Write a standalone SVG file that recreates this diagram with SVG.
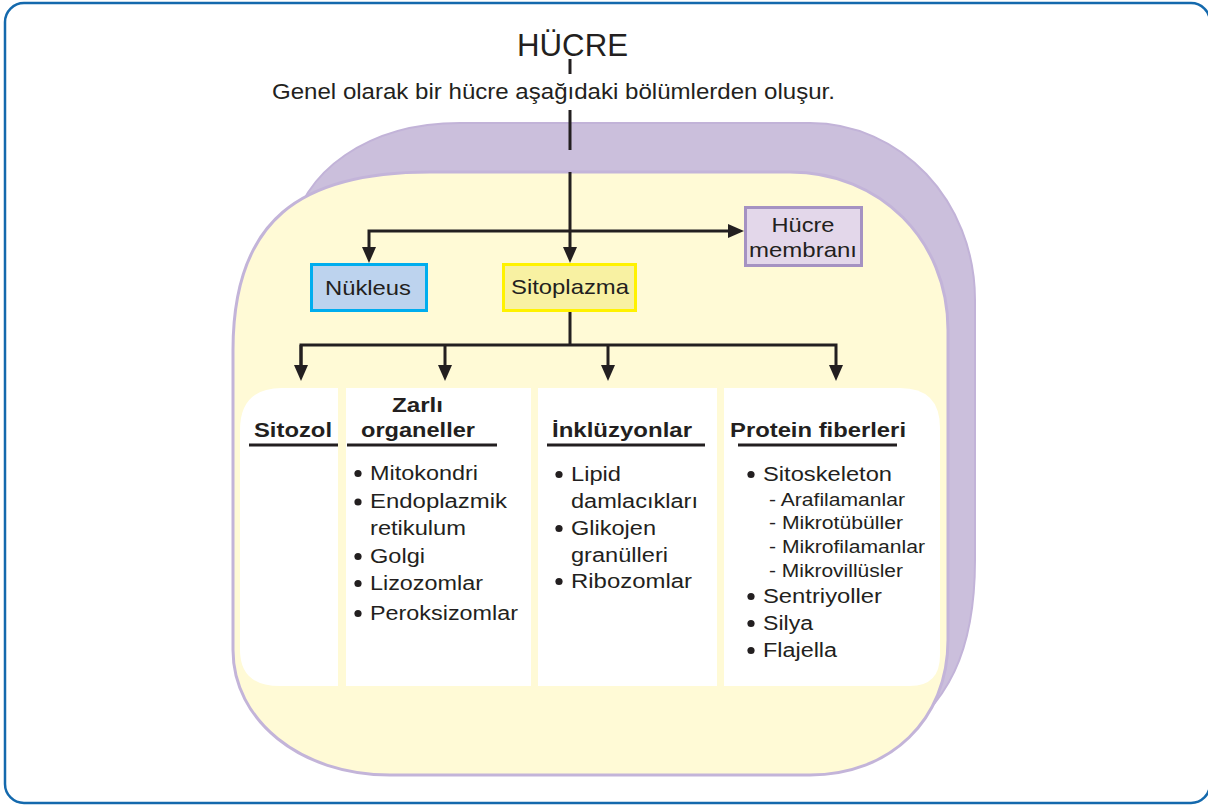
<svg xmlns="http://www.w3.org/2000/svg" width="1208" height="805" viewBox="0 0 1208 805">
<defs>
<style>
text{font-family:"Liberation Sans",Arial,sans-serif;fill:#231f20}
.h{font-size:20px;font-weight:bold}
.i{font-size:20px}
.s{font-size:17.5px}
.lbl{font-size:21px;text-anchor:middle}
.con{fill:none;stroke:#231f20;stroke-width:3}
.ul{stroke:#231f20;stroke-width:3.2}
.col{fill:#ffffff}
.dot{fill:#231f20}
</style>
<marker id="ah" viewBox="0 0 16 14" refX="10" refY="7" markerWidth="16" markerHeight="14" markerUnits="userSpaceOnUse" orient="auto">
<path d="M0,0 L16,7 L0,14 Z" fill="#231f20"/>
</marker>
</defs>

<rect x="5" y="3" width="1205" height="800" rx="19" fill="#ffffff" stroke="#1469ad" stroke-width="2.5"/>

<g id="cell">
<path d="M290,240 C300,170 370,123 460,123 L810,123 C900,123 975,200 975,300 L975,560 C975,650 950,705 885,748 L500,748 Z" fill="#cbbfdc" stroke="#c2b3d8" stroke-width="2"/>
<path d="M233,350 C233,220 300,172 430,172 L790,172 C880,172 948,240 948,330 L948,640 C948,720 890,775 810,775 L390,775 C300,775 233,720 233,650 Z" fill="#fffad6" stroke="#c3b4d9" stroke-width="3"/>
</g>

<g id="title">
<text x="572.5" y="56" font-size="32" text-anchor="middle" textLength="111" lengthAdjust="spacingAndGlyphs">HÜCRE</text>
<text x="553.5" y="99" font-size="22" text-anchor="middle" textLength="563" lengthAdjust="spacingAndGlyphs">Genel olarak bir hücre aşağıdaki bölümlerden oluşur.</text>
</g>

<g id="connectors">
<line class="con" x1="570" y1="59" x2="570" y2="74"/>
<line class="con" x1="570" y1="110" x2="570" y2="150"/>
<line class="con" x1="570" y1="172" x2="570" y2="257" marker-end="url(#ah)"/>
<path class="con" d="M570,231 L738,231" marker-end="url(#ah)"/>
<path class="con" d="M570,231 L369,231 L369,257" marker-end="url(#ah)"/>
<line class="con" x1="570" y1="312" x2="570" y2="345"/>
<path class="con" d="M301,375 L301,345 L836,345 L836,375" marker-end="url(#ah)"/>
<line class="con" x1="301" y1="345" x2="301" y2="375" marker-end="url(#ah)"/>
<line class="con" x1="445" y1="345" x2="445" y2="375" marker-end="url(#ah)"/>
<line class="con" x1="608" y1="345" x2="608" y2="375" marker-end="url(#ah)"/>
</g>

<g id="nukleus">
<rect x="311.5" y="264.5" width="115" height="46" fill="#bdd3ee" stroke="#00adee" stroke-width="3"/>
<text class="lbl" x="368" y="295" textLength="86" lengthAdjust="spacingAndGlyphs">Nükleus</text>
</g>

<g id="sitoplazma">
<rect x="503.5" y="264.5" width="132" height="46" fill="#f8f1a2" stroke="#fff200" stroke-width="3"/>
<text class="lbl" x="570" y="294" textLength="118" lengthAdjust="spacingAndGlyphs">Sitoplazma</text>
</g>

<g id="hucre-membrani">
<rect x="745.5" y="207.5" width="116" height="58" fill="#e3d7ea" stroke="#a592c2" stroke-width="3"/>
<text class="lbl" x="803" y="232" textLength="63" lengthAdjust="spacingAndGlyphs">Hücre</text>
<text class="lbl" x="803" y="257" textLength="108" lengthAdjust="spacingAndGlyphs">membranı</text>
</g>

<g id="sitozol">
<path class="col" d="M282,388 L338,388 L338,686 L280,686 Q240,686 240,650 L240,430 Q240,388 282,388 Z"/>
<text class="h" x="254" y="437" textLength="78" lengthAdjust="spacingAndGlyphs">Sitozol</text>
<line class="ul" x1="249" y1="445" x2="338" y2="445"/>
</g>

<g id="zarli-organeller">
<rect class="col" x="346" y="388" width="185" height="298"/>
<text class="h" x="392" y="412" textLength="51" lengthAdjust="spacingAndGlyphs">Zarlı</text>
<text class="h" x="361" y="437" textLength="114" lengthAdjust="spacingAndGlyphs">organeller</text>
<line class="ul" x1="347" y1="445" x2="497" y2="445"/>
<circle class="dot" cx="358" cy="473.5" r="3.6"/>
<text class="i" x="370" y="480" textLength="108" lengthAdjust="spacingAndGlyphs">Mitokondri</text>
<circle class="dot" cx="358" cy="502" r="3.6"/>
<text class="i" x="370" y="508" textLength="137" lengthAdjust="spacingAndGlyphs">Endoplazmik</text>
<text class="i" x="370" y="535" textLength="96" lengthAdjust="spacingAndGlyphs">retikulum</text>
<circle class="dot" cx="358" cy="556.5" r="3.6"/>
<text class="i" x="370" y="563" textLength="55" lengthAdjust="spacingAndGlyphs">Golgi</text>
<circle class="dot" cx="358" cy="583.5" r="3.6"/>
<text class="i" x="370" y="590" textLength="113" lengthAdjust="spacingAndGlyphs">Lizozomlar</text>
<circle class="dot" cx="358" cy="613.5" r="3.6"/>
<text class="i" x="370" y="620" textLength="148" lengthAdjust="spacingAndGlyphs">Peroksizomlar</text>
</g>

<g id="inkluzyonlar">
<rect class="col" x="538" y="388" width="179" height="298"/>
<text class="h" x="552" y="437" textLength="140" lengthAdjust="spacingAndGlyphs">İnklüzyonlar</text>
<line class="ul" x1="547" y1="445" x2="705" y2="445"/>
<circle class="dot" cx="559" cy="474.5" r="3.6"/>
<text class="i" x="571" y="481" textLength="50" lengthAdjust="spacingAndGlyphs">Lipid</text>
<text class="i" x="571" y="508" textLength="127" lengthAdjust="spacingAndGlyphs">damlacıkları</text>
<circle class="dot" cx="559" cy="528.5" r="3.6"/>
<text class="i" x="571" y="535" textLength="85" lengthAdjust="spacingAndGlyphs">Glikojen</text>
<text class="i" x="571" y="562" textLength="97" lengthAdjust="spacingAndGlyphs">granülleri</text>
<circle class="dot" cx="559" cy="581.5" r="3.6"/>
<text class="i" x="571" y="588" textLength="121" lengthAdjust="spacingAndGlyphs">Ribozomlar</text>
</g>

<g id="protein-fiberleri">
<path class="col" d="M724,388 L900,388 Q940,388 940,428 L940,655 Q940,686 910,686 L724,686 Z"/>
<text class="h" x="730" y="437" textLength="176" lengthAdjust="spacingAndGlyphs">Protein fiberleri</text>
<line class="ul" x1="738" y1="445" x2="897" y2="445"/>
<circle class="dot" cx="751" cy="474.5" r="3.6"/>
<text class="i" x="763" y="481" textLength="129" lengthAdjust="spacingAndGlyphs">Sitoskeleton</text>
<text class="s" x="769" y="506" textLength="136" lengthAdjust="spacingAndGlyphs">- Arafilamanlar</text>
<text class="s" x="769" y="529" textLength="134" lengthAdjust="spacingAndGlyphs">- Mikrotübüller</text>
<text class="s" x="769" y="553" textLength="156" lengthAdjust="spacingAndGlyphs">- Mikrofilamanlar</text>
<text class="s" x="769" y="577" textLength="134" lengthAdjust="spacingAndGlyphs">- Mikrovillüsler</text>
<circle class="dot" cx="751" cy="596.5" r="3.6"/>
<text class="i" x="763" y="603" textLength="119" lengthAdjust="spacingAndGlyphs">Sentriyoller</text>
<circle class="dot" cx="751" cy="623.5" r="3.6"/>
<text class="i" x="763" y="630" textLength="50" lengthAdjust="spacingAndGlyphs">Silya</text>
<circle class="dot" cx="751" cy="650.5" r="3.6"/>
<text class="i" x="763" y="657" textLength="74" lengthAdjust="spacingAndGlyphs">Flajella</text>
</g>
</svg>
